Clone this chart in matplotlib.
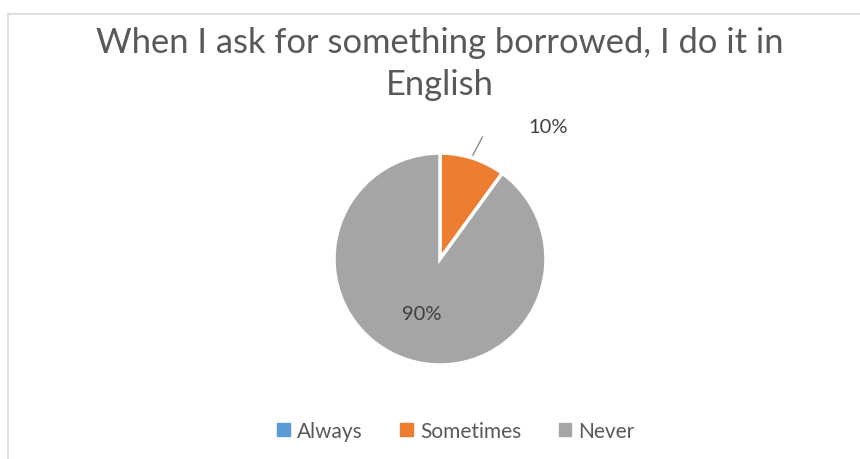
import matplotlib
matplotlib.use("Agg")
import matplotlib.pyplot as plt
from matplotlib.patches import Rectangle

title = "When I ask for something borrowed, I do it in\nEnglish"
labels = ["Always", "Sometimes", "Never"]
shares = [0, 10, 90]
colors = ["#5B9BD5", "#ED7D31", "#A5A5A5"]

plt.rcParams["font.family"] = ["Lato", "DejaVu Sans"]
text_gray = "#595959"

W, H = 860, 460
fig = plt.figure(figsize=(W / 100, H / 100), dpi=100)

# chart frame (only top and left edges are inside the image)
fig.add_artist(plt.Line2D([8 / W, 8 / W], [0, 1 - 15 / H], transform=fig.transFigure,
                          color="#D9D9D9", lw=1.2))
fig.add_artist(plt.Line2D([8 / W, 1], [1 - 15 / H, 1 - 15 / H], transform=fig.transFigure,
                          color="#D9D9D9", lw=1.2))

fig.text(440 / W, 1 - 64 / H, title, ha="center", va="center", fontsize=24.8,
         color=text_gray, linespacing=1.4)

cx, cy, r = 440, 260, 106
ax = fig.add_axes([(cx - r) / W, (H - cy - r) / H, 2 * r / W, 2 * r / H])
wedges, _ = ax.pie(shares, colors=colors, startangle=90, counterclock=False,
                   wedgeprops=dict(edgecolor="white", linewidth=2.5))
ax.set_xlim(-1, 1)
ax.set_ylim(-1, 1)

# inside label for Never, outside label with leader line for Sometimes
ax.text(-0.17, -0.51, f"{shares[2]}%", ha="center", va="center",
        fontsize=14.5, color="#404040")
ax.plot([0.31, 0.40], [0.98, 1.15], color="#8C8C8C", lw=1, clip_on=False)
ax.text(1.02, 1.25, f"{shares[1]}%", ha="center", va="center",
        fontsize=14.5, color="#404040", clip_on=False)

handles = [Rectangle((0, 0), 1, 1, color=c) for c in colors]
fig.legend(handles, labels, loc="center", bbox_to_anchor=(456 / W, 1 - 432 / H),
           ncol=3, frameon=False, fontsize=15, handlelength=0.6, handleheight=0.6,
           handletextpad=0.35, columnspacing=1.8, labelcolor=text_gray)

fig.savefig("out.png", dpi=100)
